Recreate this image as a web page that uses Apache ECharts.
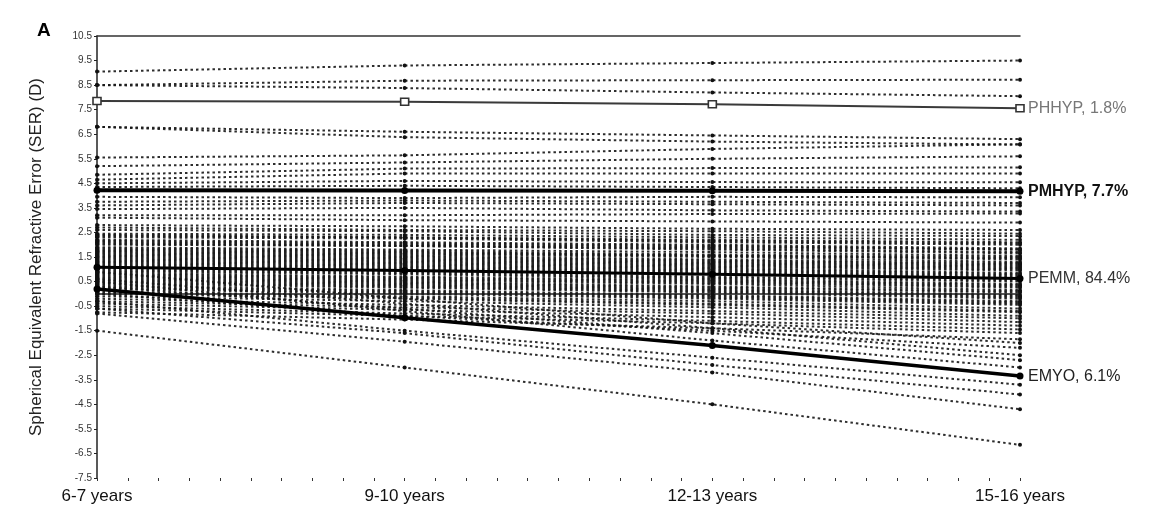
<!DOCTYPE html>
<html>
<head>
<meta charset="utf-8">
<script src="https://cdn.jsdelivr.net/npm/echarts@6/dist/echarts.min.js"></script>
<style>
html, body { margin: 0; padding: 0; background: #fff; }
#chart_a { width: 1164px; height: 528px; }
</style>
</head>
<body>
<div id="chart_a"></div>
<script>
// age groups on the x axis
var ageLabels = ['6-7 years', '9-10 years', '12-13 years', '15-16 years'];
var yTicks = [-7.5, -6.5, -5.5, -4.5, -3.5, -2.5, -1.5, -0.5, 0.5, 1.5, 2.5, 3.5, 4.5, 5.5, 6.5, 7.5, 8.5, 9.5, 10.5];

// class means (D)
var meanPHHYP = [7.85, 7.82, 7.72, 7.56];
var meanPMHYP = [4.22, 4.21, 4.2, 4.18];
var meanPEMM = [1.08, 0.95, 0.8, 0.62];
var meanEMYO = [0.2, -0.97, -2.1, -3.35];

// individual children
var indivPHHYP = [
    [9.05, 9.3, 9.4, 9.5],
    [8.5, 8.68, 8.7, 8.72],
    [8.5, 8.38, 8.2, 8.05],
    [6.8, 6.6, 6.45, 6.3],
    [6.8, 6.38, 6.2, 6.08]
];
var indivPMHYP = [
    [5.55, 5.64, 5.9, 6.09],
    [5.2, 5.35, 5.5, 5.6],
    [4.85, 5.1, 5.12, 5.15],
    [4.65, 4.9, 4.9, 4.9],
    [4.5, 4.6, 4.55, 4.54],
    [4.35, 4.4, 4.35, 4.3],
    [4.2, 4.22, 4.2, 4.2],
    [3.95, 3.9, 3.95, 3.93],
    [3.75, 3.8, 3.75, 3.7],
    [3.6, 3.7, 3.65, 3.6],
    [3.45, 3.5, 3.4, 3.35],
    [3.2, 3.2, 3.25, 3.27],
    [3.1, 3.0, 2.95, 2.9]
];
var indivPEMM = [
    [2.8, 2.75, 2.65, 2.6],
    [2.7, 2.6, 2.55, 2.45],
    [2.6, 2.55, 2.4, 2.35],
    [2.45, 2.4, 2.3, 2.2],
    [2.4, 2.3, 2.2, 2.1],
    [2.35, 2.3, 2.15, 2.05],
    [2.3, 2.25, 2.1, 2.0],
    [2.2, 2.1, 2.0, 1.85],
    [2.15, 2.05, 1.95, 1.8],
    [2.1, 2.0, 1.9, 1.8],
    [2.05, 1.95, 1.85, 1.7],
    [2.0, 1.95, 1.8, 1.65],
    [1.9, 1.8, 1.7, 1.55],
    [1.85, 1.75, 1.6, 1.5],
    [1.8, 1.7, 1.55, 1.45],
    [1.75, 1.65, 1.55, 1.4],
    [1.7, 1.6, 1.5, 1.3],
    [1.65, 1.55, 1.4, 1.25],
    [1.6, 1.5, 1.35, 1.2],
    [1.55, 1.45, 1.3, 1.15],
    [1.5, 1.4, 1.25, 1.1],
    [1.45, 1.35, 1.2, 1.05],
    [1.4, 1.3, 1.15, 1.0],
    [1.35, 1.25, 1.1, 0.95],
    [1.3, 1.2, 1.05, 0.85],
    [1.25, 1.15, 1.0, 0.8],
    [1.2, 1.1, 0.95, 0.75],
    [1.15, 1.05, 0.9, 0.7],
    [1.1, 1.0, 0.85, 0.65],
    [1.05, 0.95, 0.8, 0.6],
    [1.0, 0.9, 0.7, 0.55],
    [0.95, 0.85, 0.65, 0.5],
    [0.9, 0.8, 0.6, 0.4],
    [0.85, 0.7, 0.55, 0.35],
    [0.8, 0.65, 0.5, 0.3],
    [0.75, 0.6, 0.45, 0.25],
    [0.7, 0.55, 0.4, 0.15],
    [0.65, 0.5, 0.3, 0.1],
    [0.6, 0.45, 0.25, 0.05],
    [0.55, 0.4, 0.2, -0.05],
    [0.5, 0.35, 0.15, -0.1],
    [0.45, 0.3, 0.1, -0.15],
    [0.4, 0.25, 0.05, -0.2],
    [0.35, 0.15, -0.05, -0.3],
    [0.3, 0.1, -0.1, -0.35],
    [0.25, 0.05, -0.15, -0.4],
    [0.2, 0.0, -0.2, -0.45],
    [0.1, -0.1, -0.3, -0.6],
    [0.05, -0.15, -0.4, -0.7],
    [0.0, -0.2, -0.45, -0.75],
    [-0.1, -0.3, -0.55, -0.9],
    [-0.2, -0.45, -0.7, -1.0],
    [-0.3, -0.55, -0.8, -1.15],
    [-0.4, -0.65, -0.95, -1.3],
    [-0.5, -0.8, -1.1, -1.45],
    [-0.6, -0.9, -1.2, -1.6],
    [-0.75, -1.05, -1.4, -1.85]
];
var indivEMYO = [
    [-1.5, -3.0, -4.5, -6.15],
    [-0.8, -1.95, -3.2, -4.7],
    [-0.6, -1.6, -2.9, -4.1],
    [-0.3, -1.5, -2.6, -3.7],
    [0.5, -0.7, -1.9, -3.0],
    [0.3, -0.6, -1.6, -2.7],
    [0.6, -0.4, -1.4, -2.5],
    [0.0, -0.9, -1.5, -2.2],
    [0.9, -0.2, -1.2, -2.0]
];

var classNames = ['PHHYP, 1.8%', 'PMHYP, 7.7%', 'PEMM, 84.4%', 'EMYO, 6.1%'];
var classMeans = [meanPHHYP, meanPMHYP, meanPEMM, meanEMYO];

function toPoints(vals) {
    return vals.map(function (v, i) { return [i, v]; });
}

// small ticks along the age axis, 10 per interval
var minorTicks = [];
for (var t = 0; t <= 30; t++) minorTicks.push(t / 10);

var myChart_a = echarts.init(document.getElementById('chart_a'));

var series = [];
[indivPHHYP, indivPMHYP, indivPEMM, indivEMYO].forEach(function (group) {
    group.forEach(function (row) {
        series.push({
            type: 'line',
            data: toPoints(row),
            symbol: 'circle',
            symbolSize: 4,
            itemStyle: { color: '#111' },
            lineStyle: { type: [2.5, 3], width: 2, color: '#161616', opacity: 0.9 },
            silent: true,
            z: 2
        });
    });
});

// thick class lines on top
var labelColors = ['#777', '#111', '#333', '#222'];
var labelWeights = ['normal', 'bold', 'normal', 'normal'];
var lineWidths = [2, 4, 3, 3.5];
classMeans.forEach(function (vals, k) {
    series.push({
        type: 'line',
        name: classNames[k],
        data: toPoints(vals),
        symbol: k == 0 ? 'rect' : 'circle',
        symbolSize: k == 0 ? [8, 7] : 7,
        itemStyle: k == 0 ? { color: '#fff', borderColor: '#333', borderWidth: 1.5 } : { color: '#000' },
        lineStyle: { color: k == 0 ? '#3a3a3a' : '#000', width: lineWidths[k] },
        endLabel: {
            show: true,
            formatter: classNames[k],
            distance: 8,
            fontSize: 16,
            fontFamily: 'Liberation Sans, Arial, sans-serif',
            color: labelColors[k],
            fontWeight: labelWeights[k]
        },
        z: 5
    });
});

var option = {
    animation: false,
    backgroundColor: '#fff',
    title: {
        text: 'A',
        left: 32,
        top: 16,
        textStyle: { fontSize: 19, fontWeight: 'bold', color: '#000', fontFamily: 'Liberation Sans, Arial, sans-serif' }
    },
    grid: { left: 97, right: 144, top: 36, bottom: 50 },
    xAxis: [{
        type: 'value',
        min: 0,
        max: 3,
        interval: 1,
        axisLine: { lineStyle: { color: '#222', width: 1.5 } },
        axisTick: { length: 7, lineStyle: { color: '#222', width: 1.5 } },
        splitLine: { show: false },
        axisLabel: {
            margin: 10,
            fontSize: 17,
            color: '#111',
            fontFamily: 'Liberation Sans, Arial, sans-serif',
            formatter: function (v) { return ageLabels[v]; }
        }
    }, {
        type: 'value',
        position: 'top',
        min: 0,
        max: 3,
        axisLine: { show: true, lineStyle: { color: '#333', width: 1.5 } },
        axisTick: { show: false },
        axisLabel: { show: false },
        splitLine: { show: false }
    }, {
        type: 'value',
        position: 'bottom',
        min: 0,
        max: 3,
        axisLine: { show: false },
        axisTick: { show: true, length: 3, customValues: minorTicks, lineStyle: { color: '#333' } },
        axisLabel: { show: false },
        splitLine: { show: false }
    }],
    yAxis: {
        type: 'value',
        min: -7.5,
        max: 10.5,
        name: 'Spherical Equivalent Refractive Error (SER) (D)',
        nameLocation: 'middle',
        nameGap: 52,
        nameTextStyle: { fontSize: 17, color: '#222', fontFamily: 'Liberation Sans, Arial, sans-serif' },
        axisLine: { show: true, lineStyle: { color: '#222', width: 1.5 } },
        axisTick: { show: true, length: 3, customValues: yTicks, lineStyle: { color: '#222' } },
        splitLine: { show: false },
        axisLabel: {
            customValues: yTicks,
            margin: 5,
            fontSize: 10,
            color: '#333',
            fontFamily: 'Liberation Sans, Arial, sans-serif'
        }
    },
    series: series
};

option && myChart_a.setOption(option);
</script>
</body>
</html>
